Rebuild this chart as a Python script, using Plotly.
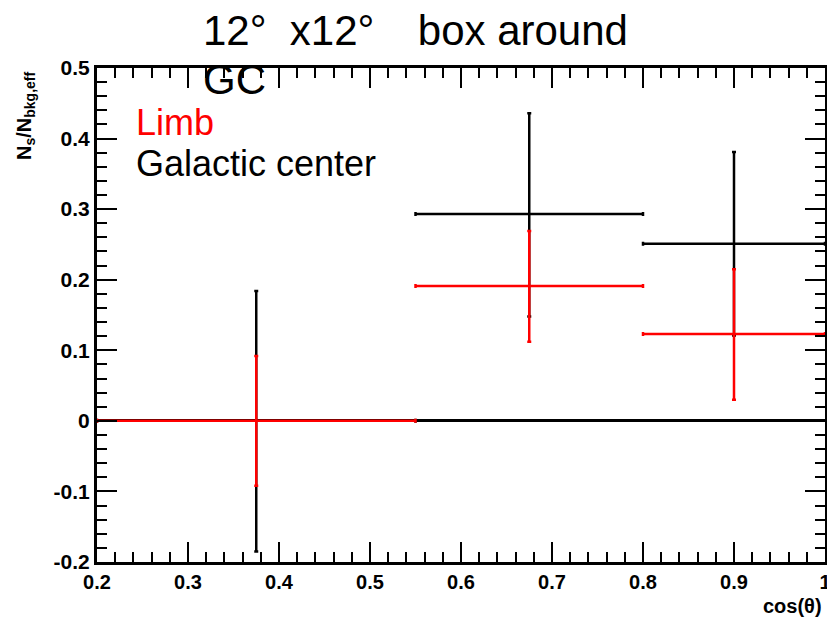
import plotly.graph_objects as go

# ---- data ----
bin_centers = [0.375, 0.675, 0.9]
bin_halfwidths = [0.175, 0.125, 0.1]

gc_values = [0.0, 0.293, 0.251]
gc_err_plus = [0.184, 0.143, 0.130]
gc_err_minus = [0.185, 0.145, 0.130]

limb_values = [0.0, 0.191, 0.123]
limb_err_plus = [0.092, 0.078, 0.092]
limb_err_minus = [0.092, 0.079, 0.093]

x_tickvals = [0.2, 0.3, 0.4, 0.5, 0.6, 0.7, 0.8, 0.9, 1.0]
x_ticktext = ["0.2", "0.3", "0.4", "0.5", "0.6", "0.7", "0.8", "0.9", "1"]
y_tickvals = [-0.2, -0.1, 0.0, 0.1, 0.2, 0.3, 0.4, 0.5]
y_ticktext = ["-0.2", "-0.1", "0", "0.1", "0.2", "0.3", "0.4", "0.5"]

W, H = 827, 617
# plot area in page pixels: x 97..825, y 68..562
L, T = 97, 68
R = W - 825
B = H - 562
PW, PH = W - L - R, H - T - B


def px(xp):  # page pixel -> paper
    return (xp - L) / PW


def py(yp):
    return (H - B - yp) / PH


FONT = "Liberation Sans, Arial, sans-serif"

fig = go.Figure()


def add_series(vals, ep, em, color, name):
    fig.add_trace(go.Scatter(
        x=bin_centers, y=vals, mode="markers", name=name,
        marker=dict(size=2, color=color),
        error_x=dict(type="data", array=bin_halfwidths, symmetric=True,
                     color=color, thickness=2.5, width=2),
        error_y=dict(type="data", array=ep, arrayminus=em, symmetric=False,
                     color=color, thickness=2.5, width=2),
        showlegend=False, cliponaxis=False, hoverinfo="skip",
    ))


add_series(gc_values, gc_err_plus, gc_err_minus, "black", "Galactic center")
add_series(limb_values, limb_err_plus, limb_err_minus, "#ff0000", "Limb")

axis_common = dict(
    showgrid=False, automargin=False,
    showline=True, linecolor="black", linewidth=3,
    mirror="allticks",
    ticks="inside", ticklen=20, tickwidth=2, tickcolor="black",
    ticklabeloverflow="allow",
)

fig.update_xaxes(
    range=[0.2, 1.0], tickvals=x_tickvals, ticktext=x_ticktext,
    minor=dict(ticks="inside", ticklen=10, tickwidth=2, dtick=0.02, tickcolor="black"),
    zeroline=False,
    tickfont=dict(family=FONT, size=20, color="black", weight="bold"),
    **axis_common,
)
fig.update_yaxes(
    range=[-0.2, 0.5], tickvals=y_tickvals, ticktext=y_ticktext,
    minor=dict(ticks="inside", ticklen=10, tickwidth=2, dtick=0.02, tickcolor="black"),
    zeroline=True, zerolinecolor="black", zerolinewidth=2.5,
    tickfont=dict(family=FONT, size=21, color="black", weight="bold"),
    **axis_common,
)

anns = [
    dict(text="12°\u00a0\u00a0x12°\u00a0\u00a0\u00a0\u2009box around", x=px(201), y=py(30),
         font=dict(family=FONT, size=42, color="black")),
    dict(text="GC", x=px(201), y=py(79),
         font=dict(family=FONT, size=42, color="black")),
    dict(text="Limb", x=px(134), y=py(122),
         font=dict(family=FONT, size=36, color="#ff0000")),
    dict(text="Galactic center", x=px(134), y=py(164),
         font=dict(family=FONT, size=36, color="black")),
]
for a in anns:
    fig.add_annotation(xref="paper", yref="paper", xanchor="left", yanchor="middle",
                       showarrow=False, **a)

fig.add_annotation(xref="paper", yref="paper", x=px(824), y=py(606),
                   xanchor="right", yanchor="middle", showarrow=False,
                   text="cos(θ)",
                   font=dict(family=FONT, size=20, color="black", weight="bold"))
fig.add_annotation(xref="paper", yref="paper", x=px(25), y=py(116),
                   xanchor="center", yanchor="middle", showarrow=False,
                   textangle=-90,
                   text="N<sub>s</sub>/N<sub>bkg,eff</sub>",
                   font=dict(family=FONT, size=20, color="black", weight="bold"))

fig.update_layout(
    width=W, height=H,
    margin=dict(l=L, r=R, t=T, b=B),
    paper_bgcolor="white", plot_bgcolor="white",
    showlegend=False, hovermode=False,
)

fig.write_html(
    "out.html",
    config={"displayModeBar": False},
    post_script=(
        "document.documentElement.style.margin='0';"
        "document.documentElement.style.overflow='hidden';"
        "document.body.style.margin='0';"
        "document.body.style.overflow='hidden';"
    ),
)
